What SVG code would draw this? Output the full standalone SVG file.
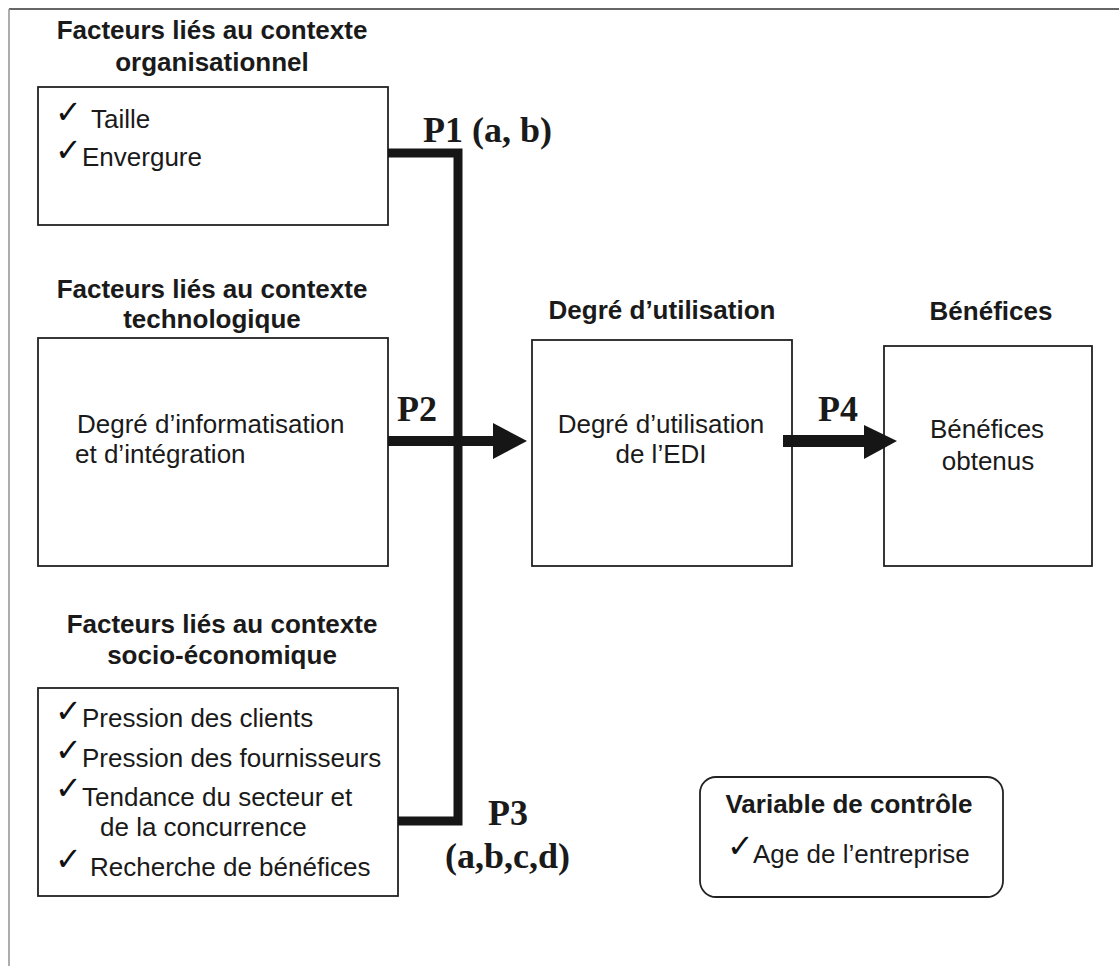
<svg xmlns="http://www.w3.org/2000/svg" width="1119" height="966" viewBox="0 0 1119 966">
<style>
.bg{fill:#ffffff}
.box{fill:#ffffff;stroke:#222;stroke-width:1.8}
.title{font-family:"Liberation Sans",Arial,sans-serif;font-weight:bold;font-size:26px;fill:#1a1a1a;text-anchor:middle}
.txt{font-family:"Liberation Sans",Arial,sans-serif;font-size:26px;fill:#1a1a1a}
.mid{text-anchor:middle}
.chk{font-family:"DejaVu Sans",sans-serif;font-weight:bold;font-size:32px;fill:#111}
.plab{font-family:"Liberation Serif","Times New Roman",serif;font-weight:bold;font-size:36px;fill:#1a1a1a}
.conn{fill:none;stroke:#161616;stroke-width:9;stroke-linejoin:miter}
.shaft{fill:#161616}
</style>
<rect class="bg" x="0" y="0" width="1119" height="966"/>
<g id="frame">
<line x1="9" y1="9" x2="1119" y2="9" stroke="#333" stroke-width="1.6"/>
<line x1="9" y1="9" x2="9" y2="966" stroke="#999" stroke-width="1.6"/>
</g>
<g id="node-organisationnel">
<text class="title" x="212" y="39">Facteurs liés au contexte</text>
<text class="title" x="212" y="71">organisationnel</text>
<rect class="box" x="38" y="87" width="350" height="138"/>
<text class="chk" x="55" y="123">✓</text>
<text class="txt" x="91" y="128">Taille</text>
<text class="chk" x="55" y="161">✓</text>
<text class="txt" x="82" y="166">Envergure</text>
</g>
<g id="node-technologique">
<text class="title" x="212" y="298">Facteurs liés au contexte</text>
<text class="title" x="212" y="328">technologique</text>
<rect class="box" x="38" y="338" width="350" height="228"/>
<text class="txt" x="77" y="433">Degré d’informatisation</text>
<text class="txt" x="75" y="463">et d’intégration</text>
</g>
<g id="node-socio">
<text class="title" x="222" y="633">Facteurs liés au contexte</text>
<text class="title" x="222" y="664">socio-économique</text>
<rect class="box" x="38" y="688" width="360" height="208"/>
<text class="chk" x="55" y="722">✓</text>
<text class="txt" x="82" y="727">Pression des clients</text>
<text class="chk" x="55" y="761">✓</text>
<text class="txt" x="82" y="767">Pression des fournisseurs</text>
<text class="chk" x="55" y="799">✓</text>
<text class="txt" x="82" y="806">Tendance du secteur et</text>
<text class="txt" x="100" y="836">de la concurrence</text>
<text class="chk" x="55" y="870">✓</text>
<text class="txt" x="90" y="876">Recherche de bénéfices</text>
</g>
<g id="node-utilisation">
<text class="title" x="662" y="319">Degré d’utilisation</text>
<rect class="box" x="532" y="340" width="260" height="226"/>
<text class="txt mid" x="661" y="433">Degré d’utilisation</text>
<text class="txt mid" x="661" y="463">de l’EDI</text>
</g>
<g id="node-benefices">
<text class="title" x="991" y="320">Bénéfices</text>
<rect class="box" x="884" y="346" width="208" height="220"/>
<text class="txt mid" x="987" y="438">Bénéfices</text>
<text class="txt mid" x="988" y="470">obtenus</text>
</g>
<g id="node-controle">
<rect class="box" x="700" y="777" width="303" height="120" rx="16" ry="16"/>
<text class="title" x="849" y="813">Variable de contrôle</text>
<text class="chk" x="727" y="857">✓</text>
<text class="txt" x="753" y="863">Age de l’entreprise</text>
</g>
<g id="connectors">
<path class="conn" d="M388,153 H458 V821 H398"/>
<rect class="shaft" x="388" y="436" width="106" height="10"/>
<polygon class="shaft" points="493,423 527,441 493,459"/>
<rect class="shaft" x="783" y="435" width="82" height="12"/>
<polygon class="shaft" points="864,425 897,441 864,459"/>
<text class="plab" x="423" y="142">P1 (a, b)</text>
<text class="plab" x="397" y="421">P2</text>
<text class="plab" x="488" y="825">P3</text>
<text class="plab" x="445" y="868">(a,b,c,d)</text>
<text class="plab" x="818" y="421">P4</text>
</g>
</svg>
